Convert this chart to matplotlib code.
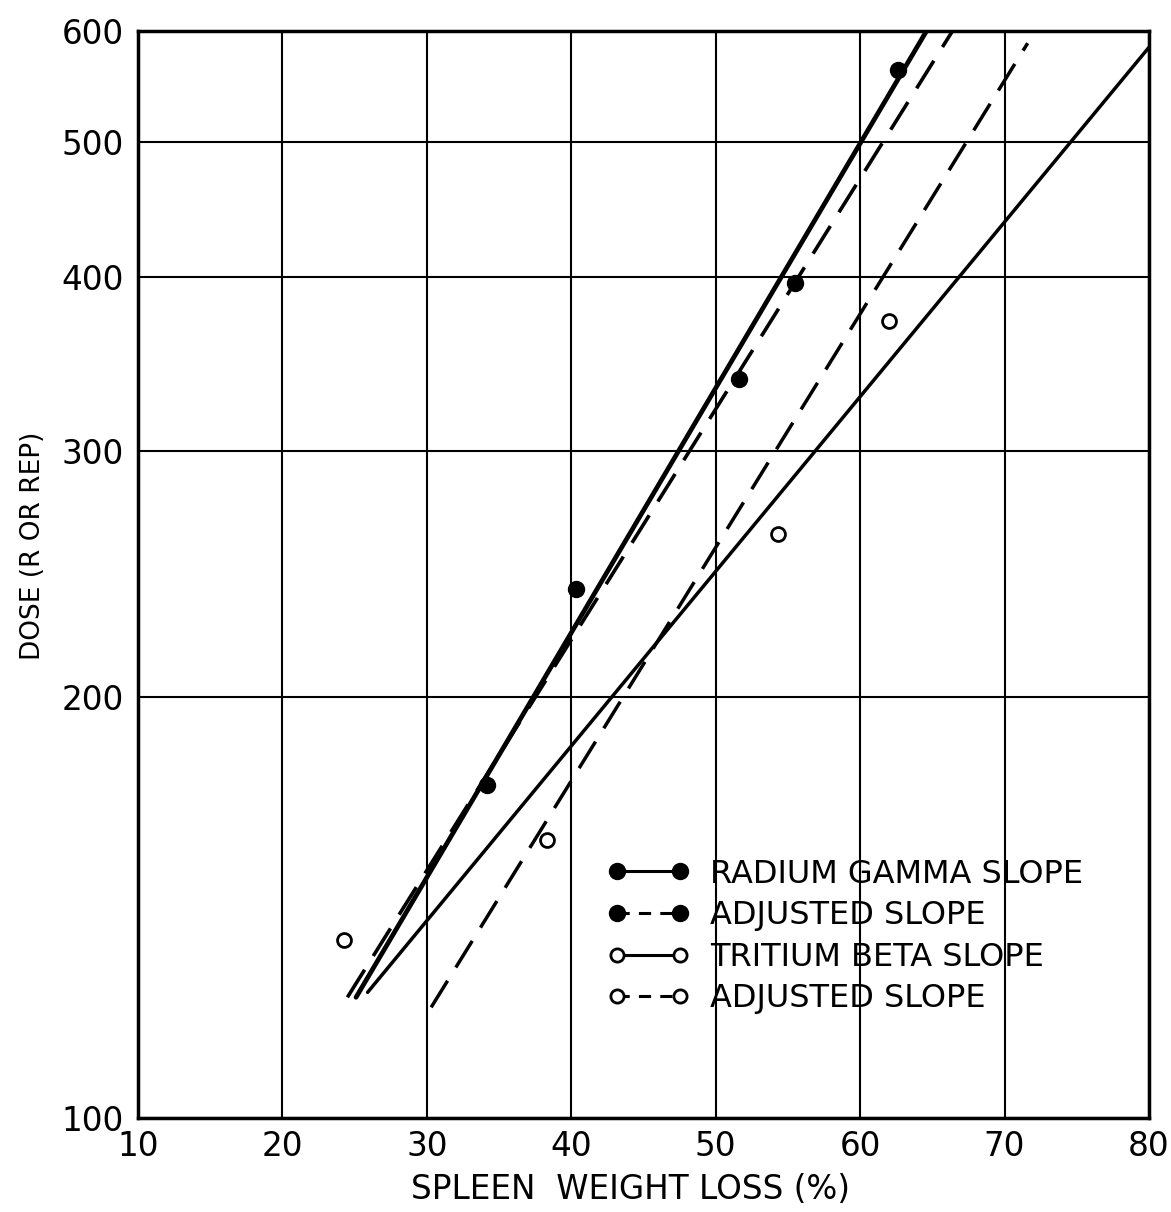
import numpy as np
import matplotlib.pyplot as plt
from matplotlib.ticker import FixedLocator, FixedFormatter, NullLocator
from matplotlib.lines import Line2D

# measured points (spleen weight loss %, dose)
gamma_x = [34.2, 40.3, 51.6, 55.5, 62.6]
gamma_y = [173, 239, 338, 396, 563]
beta_x = [24.3, 38.3, 54.3, 62.0]
beta_y = [134, 158, 262, 372]

# fitted slopes
gamma_fit_x = [25.1, 64.6]
gamma_fit_y = [122, 600]
gamma_adj_x = [24.5, 66.4]
gamma_adj_y = [122, 600]
beta_fit_x = [25.9, 80.0]
beta_fit_y = [123, 584]
beta_adj_x = [30.3, 71.6]
beta_adj_y = [120, 588]

xticks = [10, 20, 30, 40, 50, 60, 70, 80]
yticks = [100, 200, 300, 400, 500, 600]

plt.rcParams['font.family'] = ['DejaVu Sans']

fig = plt.figure(figsize=(11.71, 12.12), dpi=100)
ax = fig.add_axes([0.1178, 0.0776, 0.8634, 0.8969])

dash = (9, 4.5)
ax.plot(gamma_fit_x, gamma_fit_y, color='black', lw=3.4, solid_capstyle='round')
ax.plot(gamma_adj_x, gamma_adj_y, color='black', lw=2.6, dashes=dash)
ax.plot(beta_fit_x, beta_fit_y, color='black', lw=2.5, solid_capstyle='round')
ax.plot(beta_adj_x, beta_adj_y, color='black', lw=2.5, dashes=dash)

ax.plot(gamma_x, gamma_y, 'o', color='black', ms=11.5, zorder=5)
ax.plot(beta_x, beta_y, 'o', mfc='white', mec='black', mew=2, ms=10, zorder=5)

ax.set_yscale('log')
ax.set_xlim(10, 80)
ax.set_ylim(100, 600)
ax.xaxis.set_major_locator(FixedLocator(xticks))
ax.set_xticklabels([str(v) for v in xticks])
ax.yaxis.set_major_locator(FixedLocator(yticks))
ax.yaxis.set_major_formatter(FixedFormatter([str(v) for v in yticks]))
ax.yaxis.set_minor_locator(NullLocator())
ax.tick_params(axis='both', length=0, labelsize=23.5)
ax.tick_params(axis='x', pad=9)
ax.tick_params(axis='y', pad=10)
ax.grid(True, color='black', lw=1.5)
ax.set_axisbelow(True)
for s in ax.spines.values():
    s.set_linewidth(2.5)

ax.set_xlabel('SPLEEN  WEIGHT LOSS (%)', fontsize=23.5, va='center')
ax.xaxis.set_label_coords(0.487, -0.066)
ax.set_ylabel('DOSE (R OR REP)', fontsize=19, va='center')
ax.yaxis.set_label_coords(-0.104, 0.526)

handles = [
    Line2D([], [], color='black', lw=2.2, marker='o', ms=11.5, mfc='black'),
    Line2D([], [], color='black', lw=2.2, marker='o', ms=11.5, mfc='black', dashes=(4, 3)),
    Line2D([], [], color='black', lw=2.2, marker='o', ms=9.5, mfc='white', mew=2),
    Line2D([], [], color='black', lw=2.2, marker='o', ms=9.5, mfc='white', mew=2, dashes=(4, 3)),
]
labels = ['RADIUM GAMMA SLOPE', 'ADJUSTED SLOPE', 'TRITIUM BETA SLOPE', 'ADJUSTED SLOPE']
ax.legend(handles, labels, numpoints=2, frameon=False, fontsize=23,
          handlelength=2.57, handletextpad=0.63, labelspacing=0.33,
          loc='upper left', bbox_to_anchor=(0.436, 0.265))

fig.savefig('out.png', dpi=100)
